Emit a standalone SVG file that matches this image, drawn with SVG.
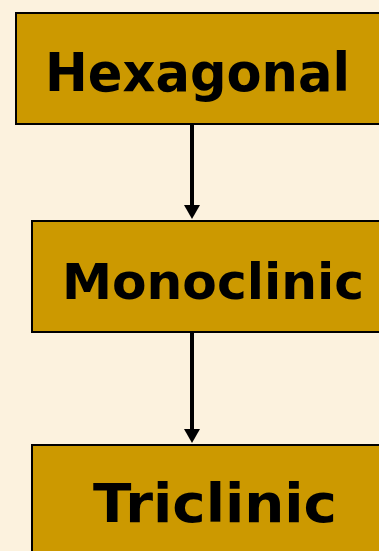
<svg xmlns="http://www.w3.org/2000/svg" width="379" height="551" viewBox="0 0 379 551">
<defs>
<style>
.box{fill:#CC9900;stroke:#000;stroke-width:2}
.lbl{font-family:"Comic Sans MS","DejaVu Sans",sans-serif;font-weight:bold;font-size:54px;fill:#000}
.con{stroke:#000;stroke-width:4;fill:none}
.head{fill:#000}
</style>
</defs>
<rect width="379" height="551" fill="#FCF2DE"/>
<g id="connectors">
<line class="con" x1="192" y1="125" x2="192" y2="206"/>
<polygon class="head" points="184,205 200,205 192,219"/>
<line class="con" x1="192" y1="333" x2="192" y2="430"/>
<polygon class="head" points="184,429 200,429 192,443"/>
</g>
<g id="hexagonal">
<rect class="box" x="16" y="13" width="370" height="111"/>
<text class="lbl" x="45" y="91" textLength="305" lengthAdjust="spacingAndGlyphs">Hexagonal</text>
</g>
<g id="monoclinic">
<rect class="box" x="32" y="221" width="360" height="111"/>
<text class="lbl" x="62" y="299" style="font-size:50px" textLength="302" lengthAdjust="spacingAndGlyphs">Monoclinic</text>
</g>
<g id="triclinic">
<rect class="box" x="32" y="445" width="360" height="120"/>
<text class="lbl" x="93" y="522" textLength="244" lengthAdjust="spacingAndGlyphs">Triclinic</text>
</g>
</svg>
